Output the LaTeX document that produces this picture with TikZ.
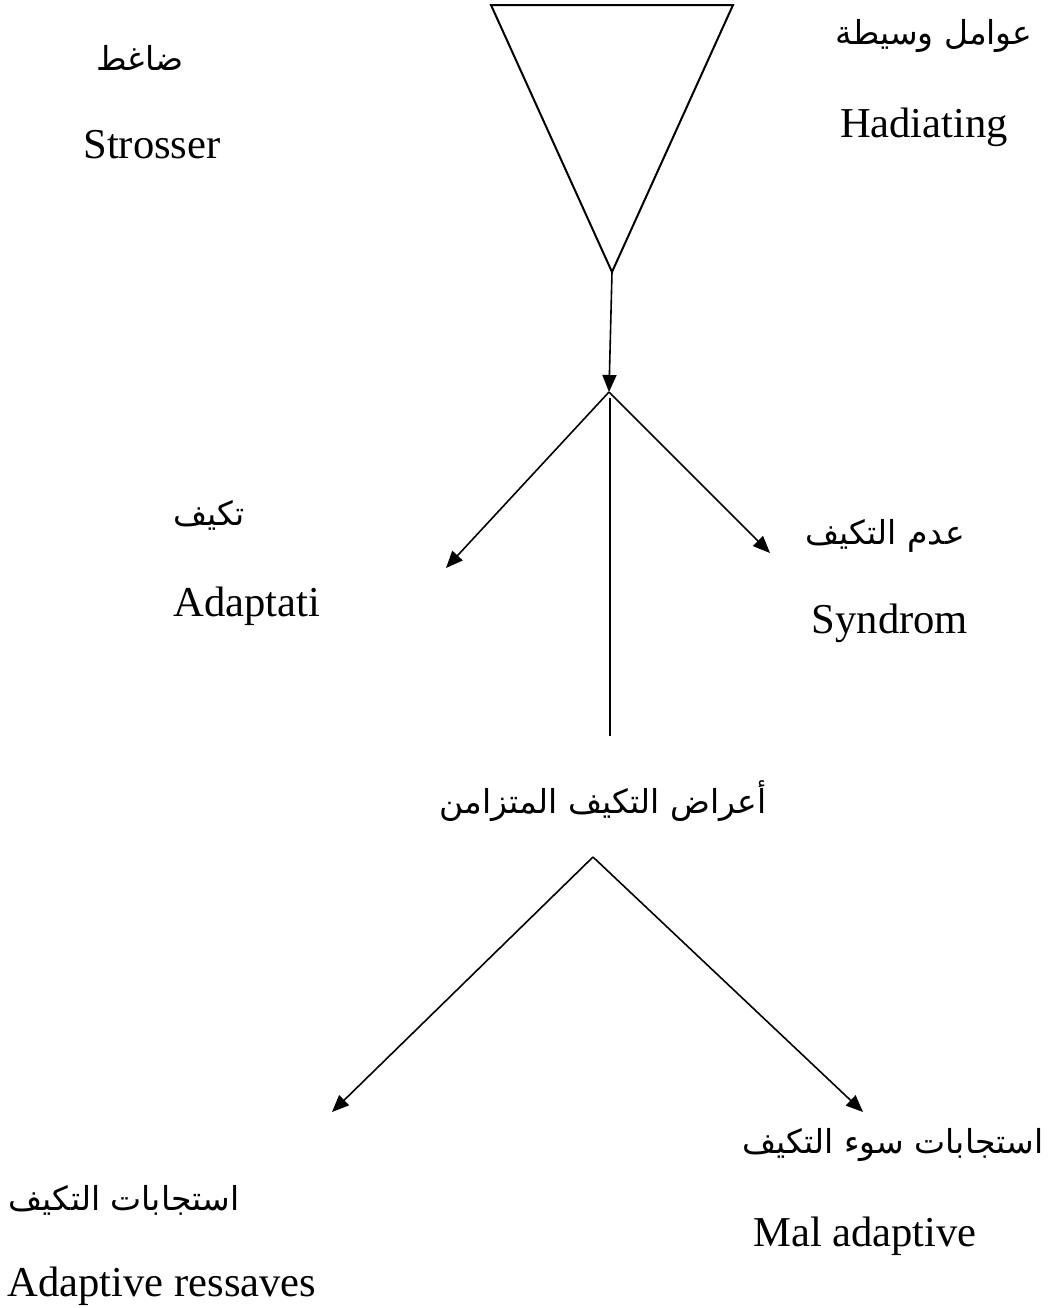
\documentclass[tikz,border=0pt]{standalone}
\usepackage{fontspec}
\setmainfont{Liberation Serif}
\newfontfamily\arabicfont[Script=Arabic]{DejaVu Sans}
\TeXXeTstate=1
\usetikzlibrary{arrows.meta}

\begin{document}
\begin{tikzpicture}[x=0.5pt, y=-0.5pt, line width=0.8pt,
    lat/.style={font=\fontsize{21.3}{25}\selectfont, inner sep=0pt, anchor=base},
    arb/.style={font=\arabicfont\fontsize{16.5}{20}\selectfont, inner sep=0pt},
    arr/.style={-{Triangle[length=8.5pt, width=7pt]}}]
  \useasboundingbox (0,0) rectangle (1050,1308);

  % funnel
  \coordinate (tl) at (491,5);
  \coordinate (tr) at (733,5);
  \coordinate (tip) at (612,272);
  \coordinate (fork) at (609,392);
  \coordinate (adapt) at (446,568);
  \coordinate (synd) at (770,553);
  \coordinate (stemtop) at (610,398);
  \coordinate (stembot) at (610,736);
  \coordinate (peak) at (593,857);
  \coordinate (resp) at (332,1112);
  \coordinate (mal) at (863,1112);

  \node[arb] (Sar) at (140,58) {\beginR ضاغط\endR};
  \node[lat] (S) at (152,158) {Strosser};
  \node[arb] (Har) at (934,36) {\beginR عوامل وسيطة\endR};
  \node[lat] (H) at (924,137) {Hadiating};
  \node[arb] (Aar) at (209,515) {\beginR تكيف\endR};
  \node[lat] (A) at (247,616) {Adaptati};
  \node[arb] (Yar) at (885,536) {\beginR عدم التكيف\endR};
  \node[lat] (Y) at (890,633) {Syndrom};
  \node[arb] (G) at (603,801) {\beginR أعراض التكيف المتزامن\endR};
  \node[arb, anchor=east] (Mar) at (1044,1145) {\beginR استجابات سوء التكيف\endR};
  \node[lat] (M) at (865,1246) {Mal adaptive};
  \node[arb, anchor=west] (Rar) at (8,1200) {\beginR استجابات التكيف\endR};
  \node[lat] (R) at (162,1296) {Adaptive ressaves};

  \draw[line width=1pt] (tl) -- (tr) -- (tip) -- cycle;
  \draw[arr] (tip) -- (fork);
  \draw[arr] (fork) -- (adapt);
  \draw[arr] (fork) -- (synd);
  \draw (stemtop) -- (stembot);
  \draw[arr] (peak) -- (resp);
  \draw[arr] (peak) -- (mal);
\end{tikzpicture}
\end{document}
